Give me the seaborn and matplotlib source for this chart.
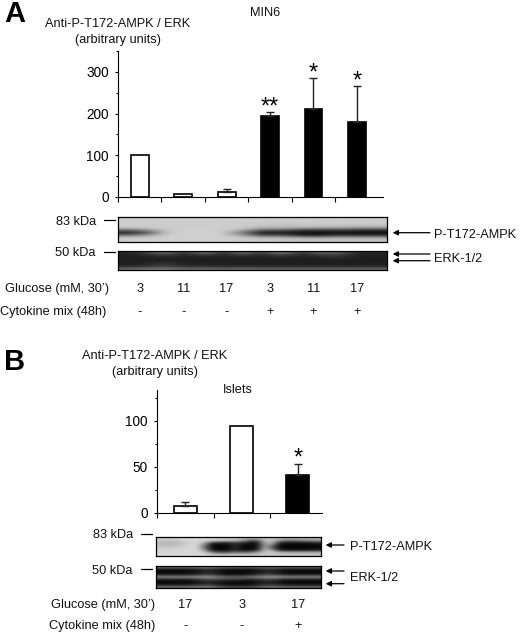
import numpy as np
import pandas as pd
import seaborn as sns
import matplotlib.pyplot as plt
from matplotlib.transforms import blended_transform_factory

W, H = 520, 644

# Panel A values
a_glucose = ["3", "11", "17", "3", "11", "17"]
a_cytokine = ["-", "-", "-", "+", "+", "+"]
a_values = [100, 8, 11, 195, 211, 179]
a_errors = [0, 0, 8, 8, 75, 87]
a_stars = ["", "", "", "**", "*", "*"]
a_yticks = [0, 100, 200, 300]

# Panel B values
b_glucose = ["17", "3", "17"]
b_cytokine = ["-", "-", "+"]
b_values = [7.5, 95, 41.5]
b_errors = [4.5, 0, 12]
b_stars = ["", "", "*"]
b_yticks = [0, 50, 100]

# Blot grey levels
blot_a_top = [
    [205, 205, 205, 205, 205, 205, 205, 205, 205, 205, 205, 205, 205, 205],
    [205, 205, 205, 205, 205, 205, 205, 205, 205, 205, 205, 205, 205, 205],
    [205, 205, 205, 205, 205, 205, 205, 205, 200, 205, 205, 205, 205, 205],
    [205, 205, 205, 205, 205, 205, 205, 200, 195, 195, 200, 200, 195, 195],
    [200, 205, 205, 205, 205, 205, 205, 180, 185, 180, 170, 170, 160, 160],
    [95, 130, 205, 208, 208, 208, 175, 80, 90, 50, 45, 55, 40, 40],
    [25, 70, 200, 208, 208, 208, 110, 12, 18, 8, 8, 12, 8, 8],
    [130, 165, 208, 208, 208, 208, 170, 80, 100, 40, 35, 65, 55, 55],
    [205, 205, 208, 208, 208, 208, 205, 195, 195, 185, 185, 185, 185, 185],
    [205, 205, 208, 208, 208, 208, 205, 200, 200, 195, 195, 195, 195, 195],
]
blot_a_bottom = [
    [40, 60, 125, 40, 140, 40, 135, 45, 150, 45, 110, 95, 40, 40],
    [32, 40, 65, 32, 55, 32, 60, 32, 70, 32, 55, 65, 30, 30],
    [30, 30, 32, 30, 32, 30, 32, 30, 32, 30, 32, 45, 28, 28],
    [30, 30, 30, 30, 30, 30, 30, 30, 30, 30, 30, 30, 28, 28],
    [30, 35, 55, 30, 35, 30, 30, 30, 30, 30, 30, 30, 30, 30],
    [32, 38, 60, 32, 38, 32, 32, 32, 32, 32, 32, 32, 30, 30],
    [105, 115, 125, 100, 105, 100, 105, 100, 100, 100, 100, 100, 100, 100],
]
blot_b_top = [
    [205, 205, 210, 215, 215, 215, 215, 210, 205, 205, 200, 195, 190, 190, 195, 195, 190, 190, 185, 185, 185, 185],
    [200, 195, 195, 205, 215, 215, 215, 210, 200, 190, 190, 150, 90, 80, 190, 190, 150, 110, 120, 130, 140, 150],
    [185, 180, 185, 190, 210, 215, 170, 40, 25, 25, 50, 40, 15, 20, 170, 180, 30, 15, 15, 15, 20, 30],
    [190, 185, 190, 200, 215, 215, 120, 10, 5, 5, 50, 10, 5, 10, 170, 120, 5, 5, 5, 5, 5, 10],
    [205, 200, 205, 210, 215, 215, 110, 10, 5, 5, 40, 10, 5, 10, 180, 80, 5, 5, 5, 5, 5, 10],
    [210, 210, 210, 215, 215, 215, 150, 20, 10, 10, 40, 15, 15, 40, 190, 160, 30, 15, 15, 15, 15, 30],
    [215, 215, 215, 215, 215, 215, 205, 130, 90, 90, 120, 110, 120, 160, 200, 200, 190, 180, 180, 180, 180, 180],
    [215, 215, 215, 215, 215, 215, 215, 205, 200, 200, 200, 200, 200, 200, 200, 200, 195, 195, 195, 195, 195, 195],
]
blot_b_bottom = [
    [110, 110, 110, 130, 100, 100, 90, 120, 100, 100, 100],
    [12, 12, 12, 50, 10, 8, 8, 50, 12, 12, 12],
    [8, 8, 8, 40, 8, 8, 8, 45, 8, 8, 8],
    [25, 25, 25, 70, 12, 12, 25, 75, 25, 25, 25],
    [150, 150, 150, 170, 110, 110, 130, 170, 150, 150, 150],
    [25, 25, 30, 80, 60, 60, 25, 75, 25, 25, 25],
    [8, 8, 12, 45, 8, 8, 8, 45, 8, 8, 8],
    [12, 12, 15, 50, 8, 8, 8, 50, 12, 12, 12],
    [110, 110, 110, 130, 70, 70, 70, 120, 100, 100, 100],
]

sns.set_theme(style="ticks")
plt.rcParams["font.family"] = ["Liberation Sans", "DejaVu Sans"]
plt.rcParams["axes.edgecolor"] = "black"
plt.rcParams["xtick.color"] = "black"
plt.rcParams["ytick.color"] = "black"
plt.rcParams["text.color"] = "#111111"

fig = plt.figure(figsize=(W / 100, H / 100), dpi=100)


def px_axes(left, top, right, bottom):
    return fig.add_axes([left / W, 1 - bottom / H, (right - left) / W, (bottom - top) / H])


# overlay in pixel coordinates for the annotation text and arrows
overlay = fig.add_axes([0, 0, 1, 1], zorder=5)
overlay.set_xlim(0, W)
overlay.set_ylim(H, 0)
overlay.axis("off")


def draw_bars(ax, cytokine, values, errors, stars, yticks, ymax, xlim, width, minor):
    df = pd.DataFrame({"lane": range(len(values)), "value": values, "cytokine": cytokine})
    sns.barplot(
        data=df,
        x="lane",
        y="value",
        hue="cytokine",
        palette={"-": "white", "+": "black"},
        dodge=False,
        legend=False,
        width=width,
        edgecolor="black",
        linewidth=1.2,
        ax=ax,
    )
    lanes = df["lane"].to_numpy()
    errs = np.array(errors, dtype=float)
    has_err = errs > 0
    ax.errorbar(
        lanes[has_err],
        df["value"].to_numpy()[has_err],
        yerr=[np.zeros(has_err.sum()), errs[has_err]],
        fmt="none",
        ecolor="#222222",
        elinewidth=1,
        capsize=3,
        capthick=1,
    )
    for lane, val, err, star in zip(lanes, values, errors, stars):
        if star:
            ax.annotate(
                star,
                (lane, val + err),
                xytext=(0, -1),
                textcoords="offset points",
                ha="center",
                va="baseline",
                fontsize=17,
                color="black",
            )
    ax.set_xlim(*xlim)
    ax.set_ylim(0, ymax)
    ax.set_xlabel("")
    ax.set_ylabel("")
    ax.set_xticks(lanes - 0.5)
    ax.set_xticklabels([])
    ax.set_yticks(yticks)
    ax.set_yticks(minor, minor=True)
    ax.tick_params(axis="y", which="major", length=2.2, width=0.8, labelsize=9.8, pad=4.5)
    ax.tick_params(axis="y", which="minor", length=1.6, width=0.8)
    ax.tick_params(axis="x", length=3.4, width=0.8)
    ax.patch.set_alpha(0)
    sns.despine(ax=ax)
    for side in ["left", "bottom"]:
        ax.spines[side].set_linewidth(0.8)


def draw_blot(box, matrix):
    ax = px_axes(*box)
    ax.imshow(matrix, cmap="gray", vmin=0, vmax=255, aspect="auto", interpolation="bicubic")
    ax.set_xticks([])
    ax.set_yticks([])
    for spine in ax.spines.values():
        spine.set_linewidth(0.9)


def arrow(x_tail, x_head, y, head=6):
    overlay.annotate(
        "",
        xy=(x_head, y),
        xytext=(x_tail, y),
        arrowprops=dict(arrowstyle="-|>", color="black", lw=0.9, mutation_scale=head * 1.3, shrinkA=0, shrinkB=0),
    )


def label(x, y, text, ha="left", size=9.2, **kw):
    overlay.text(x, y + 1, text, ha=ha, va="center", fontsize=size, **kw)


def kda(text_right, dash_left, dash_right, y, text):
    label(text_right, y + 0.5, text, ha="right")
    overlay.plot([dash_left, dash_right], [y, y], color="black", lw=0.9)


def lane_labels(ax, glucose, cytokine, y_glucose, y_cytokine):
    tr = blended_transform_factory(ax.transData, overlay.transData)
    for lane, (g, c) in enumerate(zip(glucose, cytokine)):
        overlay.text(lane, y_glucose + 1, g, transform=tr, ha="center", va="center", fontsize=9.2)
        overlay.text(lane, y_cytokine + 1, c, transform=tr, ha="center", va="center", fontsize=9.2)


# Panel A
ax_a = px_axes(118, 51, 383, 197)
draw_bars(ax_a, a_cytokine, a_values, a_errors, a_stars, a_yticks, 350, (-0.47, 5.6), 0.41,
          [50, 150, 250, 350])
draw_blot((118, 217, 387, 242), blot_a_top)
draw_blot((118, 251, 387, 270), blot_a_bottom)

label(15, 13, "A", ha="center", size=21, fontweight="bold", color="black")
label(265, 11.5, "MIN6", ha="center")
label(118, 23, "Anti-P-T172-AMPK / ERK", ha="center")
label(118, 38.7, "(arbitrary units)", ha="center")
kda(95.7, 104, 115, 220, "83 kDa")
kda(95.7, 104, 115, 251.7, "50 kDa")
arrow(430, 392.7, 232.7)
arrow(430, 392.7, 254)
arrow(430, 392.7, 260.7)
label(434, 233.5, "P-T172-AMPK")
label(434, 258, "ERK-1/2")
label(109, 287.7, "Glucose (mM, 30’)", ha="right")
label(106, 311, "Cytokine mix (48h)", ha="right")
lane_labels(ax_a, a_glucose, a_cytokine, 287.7, 311)

# Panel B
ax_b = px_axes(157.3, 390, 322, 512.7)
draw_bars(ax_b, b_cytokine, b_values, b_errors, b_stars, b_yticks, 133.8, (-0.475, 2.43), 0.41,
          [25, 75, 125])
draw_blot((156, 537, 321, 556), blot_b_top)
draw_blot((156, 566, 321, 588), blot_b_bottom)

label(14.3, 360.7, "B", ha="center", size=21, fontweight="bold", color="black")
label(155, 355.3, "Anti-P-T172-AMPK / ERK", ha="center")
label(155, 371, "(arbitrary units)", ha="center")
label(238, 389, "Islets", ha="center")
kda(132.7, 141, 152, 534, "83 kDa")
kda(132.7, 141, 152, 569, "50 kDa")
arrow(344, 325.7, 545)
arrow(344, 325.7, 571)
arrow(344, 325.7, 583.7)
label(350, 546, "P-T172-AMPK")
label(350, 577.3, "ERK-1/2")
label(155, 604.3, "Glucose (mM, 30’)", ha="right")
label(155, 625.3, "Cytokine mix (48h)", ha="right")
lane_labels(ax_b, b_glucose, b_cytokine, 604.3, 625.3)

fig.savefig("out.png", dpi=100)
plt.close(fig)
